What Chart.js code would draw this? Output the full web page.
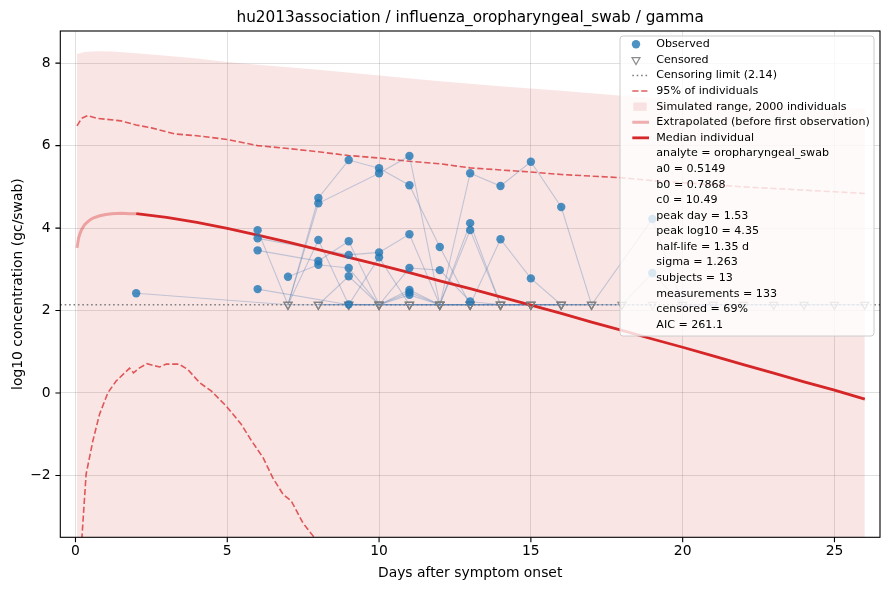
<!DOCTYPE html>
<html>
<head>
<meta charset="utf-8">
<script src="https://cdn.jsdelivr.net/npm/chart.js@4.4.0/dist/chart.umd.min.js"></script>
<style>
html,body{margin:0;padding:0;background:#ffffff;}
canvas{display:block;}
</style>
</head>
<body>
<canvas id="c" width="889" height="590"></canvas>
<script>
// ---------------- text ----------------
const titleText = "hu2013association / influenza_oropharyngeal_swab / gamma";
const xLabel = "Days after symptom onset";
const yLabel = "log10 concentration (gc/swab)";
const legendLabels = ["Observed", "Censored", "Censoring limit (2.14)", "95% of individuals",
  "Simulated range, 2000 individuals", "Extrapolated (before first observation)", "Median individual"];
const statLines = ["analyte = oropharyngeal_swab", "a0 = 0.5149", "b0 = 0.7868", "c0 = 10.49",
  "peak day = 1.53", "peak log10 = 4.35", "half-life = 1.35 d", "sigma = 1.263", "subjects = 13",
  "measurements = 133", "censored = 69%", "AIC = 261.1"];

// ---------------- axes ----------------
const xTicks = [0, 5, 10, 15, 20, 25];
const yTicks = [-2, 0, 2, 4, 6, 8];
const xRange = [-0.5, 26.5];
const yRange = [-3.5, 8.78];
const censorLimit = 2.14;

// ---------------- subjects (null = censored at limit) ----------------
const s1Days = [2, 7, 8, 9, 10, 11, 12, 13, 14, 15, 16, 17];
const s1Vals = [2.42, null, 4.73, 5.65, 5.45, 5.04, 3.54, null, null, null, null, null];
const s2Days = [6, 7, 8, 10, 11, 12, 13, 14, 15, 16, 17, 19, 20, 21, 22, 23, 24, 25, 26];
const s2Vals = [3.95, null, 4.60, 5.33, 5.75, null, 5.33, 5.02, 5.61, 4.51, null, 4.22, null, null, null, null, null, null, null];
const s3Days = [6, 9, 10, 11, 12, 13, 14, 15, 16];
const s3Vals = [3.75, 3.35, 3.41, 3.85, null, 4.12, null, null, null];
const s4Days = [6, 8, 9, 10, 11, 12, 13, 14, 15];
const s4Vals = [3.46, 3.20, 3.68, null, 3.03, 2.98, 2.22, null, null];
const s5Days = [6, 9, 10, 11, 12, 13, 14, 15, 16];
const s5Vals = [2.52, null, null, 2.50, null, 3.95, null, null, null];
const s6Days = [7, 8, 9, 10, 11, 12, 13, 14, 15, 16];
const s6Vals = [2.82, 3.11, 3.03, null, 2.44, null, null, 3.73, 2.78, null];
const s7Days = [7, 8, 9, 10, 11, 12, 13, 14];
const s7Vals = [null, 3.71, null, 3.29, null, null, null, null];
const s8Days = [8, 9, 10, 11, 12, 13, 14, 15, 16, 17, 18, 19, 20, 21, 22, 23, 24, 25, 26];
const s8Vals = [null, 2.83, null, 2.38, null, null, null, null, null, null, null, 2.91, null, null, null, null, null, null, null];
const s9Days = [8, 9, 10, 11, 12, 13, 14, 15, 16, 17, 18, 19];
const s9Vals = [null, 2.15, null, null, null, null, null, null, null, null, null, null];
const s10Days = [7, 8, 9, 10, 11, 12, 13];
const s10Vals = [null, null, null, null, null, null, null];
const s11Days = [8, 9, 10, 11, 12];
const s11Vals = [null, null, null, null, null];
const s12Days = [9, 10, 11, 12, 13, 14];
const s12Vals = [null, null, null, null, null, null];
const s13Days = [10, 11, 12, 13, 14, 15, 16, 17];
const s13Vals = [null, null, null, null, null, null, null, null];

// ---------------- model curves ----------------
const extrapDays = [0.05, 0.1, 0.15, 0.2, 0.3, 0.4, 0.5, 0.6, 0.8, 1.0, 1.2, 1.5, 1.8, 2.0];
const extrapVals = [3.52, 3.75, 3.87, 3.96, 4.08, 4.15, 4.21, 4.25, 4.30, 4.33, 4.35, 4.36, 4.35, 4.35];
const medianDays = [2, 3, 4, 5, 6, 7, 8, 9, 10, 11, 12, 13, 14, 15, 16, 17, 18, 19, 20, 21, 22, 23, 24, 25, 26];
const medianVals = [4.35, 4.26, 4.14, 3.99, 3.83, 3.66, 3.48, 3.29, 3.11, 2.92, 2.72, 2.53, 2.33, 2.13, 1.93, 1.72, 1.52, 1.31, 1.11, 0.90, 0.69, 0.48, 0.27, 0.07, -0.15];

const upperDays = [0.05, 0.2, 0.4, 0.7, 1.0, 1.5, 2.0, 2.5, 3.3, 4.0, 5.0, 6.0, 7.0, 8.0, 9.0, 10, 11, 12, 13, 14, 15, 16, 17, 18, 19, 20, 21, 22, 23, 24, 25, 26];
const upperVals = [6.48, 6.66, 6.73, 6.66, 6.64, 6.60, 6.50, 6.43, 6.28, 6.24, 6.15, 6.00, 5.93, 5.85, 5.76, 5.70, 5.62, 5.56, 5.46, 5.41, 5.36, 5.30, 5.26, 5.22, 5.15, 5.10, 5.05, 5.00, 4.96, 4.92, 4.88, 4.84];
const lowerDays = [0.15, 0.35, 0.57, 0.79, 1.07, 1.34, 1.78, 1.91, 2.11, 2.35, 2.77, 2.99, 3.41, 3.7, 4.09, 4.47, 4.97, 5.46, 5.79, 6.18, 6.5, 6.84, 7.11, 7.49, 7.83, 8.1];
const lowerVals = [-4.2, -1.97, -1.17, -0.52, 0.01, 0.29, 0.60, 0.49, 0.61, 0.71, 0.63, 0.70, 0.70, 0.57, 0.25, 0.05, -0.32, -0.76, -1.15, -1.57, -2.06, -2.46, -2.62, -3.15, -3.47, -3.9];

const simDays = [0.05, 0.3, 0.7, 1.2, 2, 3, 4, 5, 6, 7, 8, 10, 12, 14, 16, 18, 20, 22, 24, 26];
const simUpper = [8.22, 8.27, 8.29, 8.28, 8.24, 8.18, 8.11, 8.03, 7.96, 7.90, 7.84, 7.70, 7.56, 7.44, 7.33, 7.21, 7.11, 7.03, 6.96, 6.89];

// ---------------- styling ----------------
const FONT = "'DejaVu Sans', sans-serif";
const C_OBS = 'rgba(31,119,180,0.8)';
const C_CENS = 'rgba(128,128,128,0.55)';
const C_CENS_LEG = 'rgba(128,128,128,0.9)';
const C_LIMIT = 'rgba(120,120,120,0.95)';
const C_P95 = 'rgba(214,39,40,0.75)';
const C_SIM = 'rgba(214,39,40,0.12)';
const C_EXT = 'rgba(214,39,40,0.36)';
const C_MED = '#d62728';
const C_SUBJ = 'rgba(70,120,175,0.32)';

Chart.defaults.font.family = FONT;

const subjectDays = [s1Days, s2Days, s3Days, s4Days, s5Days, s6Days, s7Days, s8Days, s9Days, s10Days, s11Days, s12Days, s13Days];
const subjectVals = [s1Vals, s2Vals, s3Vals, s4Vals, s5Vals, s6Vals, s7Vals, s8Vals, s9Vals, s10Vals, s11Vals, s12Vals, s13Vals];

const zip = (xs, ys) => xs.map((x, i) => ({x: x, y: ys[i]}));

const observedPts = [];
const censoredPts = [];
const subjectSets = [];
subjectDays.forEach((days, k) => {
  const vals = subjectVals[k];
  const pts = days.map((d, i) => ({x: d, y: vals[i] === null ? censorLimit : vals[i]}));
  days.forEach((d, i) => {
    if (vals[i] === null) censoredPts.push({x: d, y: censorLimit});
    else observedPts.push({x: d, y: vals[i]});
  });
  subjectSets.push({
    type: 'line', data: pts, borderColor: C_SUBJ, borderWidth: 1.1, pointRadius: 0,
    fill: false, tension: 0, clip: 0
  });
});

const datasets = [
  {type: 'scatter', data: observedPts, pointRadius: 4.2, pointBackgroundColor: C_OBS,
   pointBorderWidth: 0, showLine: false, clip: 0},
  {type: 'scatter', data: censoredPts, pointStyle: 'triangle', rotation: 180, pointRadius: 4.6,
   pointBackgroundColor: 'rgba(0,0,0,0)', pointBorderColor: C_CENS, pointBorderWidth: 1.2,
   showLine: false, clip: 0},
  {type: 'line', data: zip(medianDays, medianVals), borderColor: C_MED, borderWidth: 2.8,
   pointRadius: 0, fill: false, tension: 0, clip: 0},
  {type: 'line', data: zip(extrapDays, extrapVals), borderColor: C_EXT, borderWidth: 3,
   pointRadius: 0, fill: false, tension: 0, clip: 0},
  ...subjectSets,
  {type: 'line', data: [{x: xRange[0], y: censorLimit}, {x: xRange[1], y: censorLimit}],
   borderColor: C_LIMIT, borderWidth: 1.6, borderDash: [1.6, 2.8], pointRadius: 0, fill: false, clip: 0},
  {type: 'line', data: zip(upperDays, upperVals), borderColor: C_P95, borderWidth: 1.6,
   borderDash: [6.2, 2.7], pointRadius: 0, fill: false, tension: 0, clip: 0},
  {type: 'line', data: zip(lowerDays, lowerVals), borderColor: C_P95, borderWidth: 1.6,
   borderDash: [6.2, 2.7], pointRadius: 0, fill: false, tension: 0, clip: 0},
  {type: 'line', data: zip(simDays, simUpper), borderWidth: 0, borderColor: 'rgba(0,0,0,0)',
   backgroundColor: C_SIM, pointRadius: 0, fill: 'start', tension: 0, clip: 0}
];

function drawLegend(ctx) {
  const bx = 620, by = 36, bw = 254, bh = 300, r = 3;
  ctx.save();
  ctx.beginPath();
  ctx.moveTo(bx + r, by);
  ctx.arcTo(bx + bw, by, bx + bw, by + bh, r);
  ctx.arcTo(bx + bw, by + bh, bx, by + bh, r);
  ctx.arcTo(bx, by + bh, bx, by, r);
  ctx.arcTo(bx, by, bx + bw, by, r);
  ctx.closePath();
  ctx.fillStyle = 'rgba(255,255,255,0.8)';
  ctx.fill();
  ctx.strokeStyle = 'rgba(204,204,204,1)';
  ctx.lineWidth = 1;
  ctx.stroke();

  const textX = 656.3, y0 = 44.3, dy = 15.59;
  const hx0 = 632.3, hx1 = 649, mx = 636;
  const all = legendLabels.concat(statLines);
  ctx.font = '11.1px ' + FONT;
  ctx.fillStyle = '#000';
  ctx.textAlign = 'left';
  ctx.textBaseline = 'middle';
  all.forEach((t, i) => ctx.fillText(t, textX, y0 + i * dy));

  // handles
  let y = y0;
  ctx.fillStyle = C_OBS;
  ctx.beginPath(); ctx.arc(mx, y, 4.2, 0, Math.PI * 2); ctx.fill();
  y = y0 + dy;
  ctx.strokeStyle = C_CENS_LEG; ctx.lineWidth = 1.2;
  ctx.beginPath();
  ctx.moveTo(mx - 4, y - 2.3); ctx.lineTo(mx + 4, y - 2.3); ctx.lineTo(mx, y + 4.6); ctx.closePath();
  ctx.stroke();
  const hline = (yy, color, w, dash) => {
    ctx.strokeStyle = color; ctx.lineWidth = w; ctx.setLineDash(dash);
    ctx.beginPath(); ctx.moveTo(hx0, yy); ctx.lineTo(hx1, yy); ctx.stroke();
    ctx.setLineDash([]);
  };
  hline(y0 + 2 * dy, C_LIMIT, 1.6, [1.6, 2.8]);
  hline(y0 + 3 * dy, C_P95, 1.6, [6.2, 2.7]);
  ctx.fillStyle = C_SIM;
  ctx.fillRect(633.3, y0 + 4 * dy - 4.2, 13.4, 8.4);
  hline(y0 + 5 * dy, C_EXT, 3, []);
  hline(y0 + 6 * dy, C_MED, 2.8, []);
  ctx.restore();
}

const decor = {
  id: 'decor',
  afterDraw(chart) {
    const ctx = chart.ctx, a = chart.chartArea, xs = chart.scales.x, ys = chart.scales.y;
    ctx.save();
    ctx.strokeStyle = '#000';
    ctx.lineWidth = 1.1;
    ctx.strokeRect(a.left, a.top, a.right - a.left, a.bottom - a.top);
    ctx.beginPath();
    xTicks.forEach(v => { const p = xs.getPixelForValue(v); ctx.moveTo(p, a.bottom); ctx.lineTo(p, a.bottom + 4.9); });
    yTicks.forEach(v => { const p = ys.getPixelForValue(v); ctx.moveTo(a.left - 4.9, p); ctx.lineTo(a.left, p); });
    ctx.stroke();

    ctx.fillStyle = '#000';
    ctx.textAlign = 'center';
    ctx.textBaseline = 'alphabetic';
    ctx.font = '15.28px ' + FONT;
    ctx.fillText(titleText, (a.left + a.right) / 2, 21.8);
    ctx.font = '13.89px ' + FONT;
    ctx.fillText(xLabel, (a.left + a.right) / 2, 576.7);
    ctx.translate(21.5, (a.top + a.bottom) / 2);
    ctx.rotate(-Math.PI / 2);
    ctx.fillText(yLabel, 0, 0);
    ctx.restore();
    drawLegend(ctx);
  }
};

const minus = v => String(v).replace('-', '\u2212');

new Chart(document.getElementById('c'), {
  type: 'scatter',
  data: {datasets: datasets},
  options: {
    responsive: false,
    animation: false,
    events: [],
    layout: {padding: {left: 0, right: 9, top: 31, bottom: 0}},
    plugins: {legend: {display: false}, tooltip: {enabled: false}, title: {display: false}},
    scales: {
      x: {
        type: 'linear', min: xRange[0], max: xRange[1],
        afterBuildTicks: s => { s.ticks = xTicks.map(v => ({value: v})); },
        afterFit: s => { s.height = 52.7; },
        grid: {color: 'rgba(0,0,0,0.12)', lineWidth: 1, drawTicks: false},
        border: {display: false},
        ticks: {font: {size: 13.89, family: FONT}, color: '#000', padding: 6, maxRotation: 0, autoSkip: false, callback: minus}
      },
      y: {
        type: 'linear', min: yRange[0], max: yRange[1],
        afterBuildTicks: s => { s.ticks = yTicks.map(v => ({value: v})); },
        afterFit: s => { s.width = 60.3; },
        grid: {color: 'rgba(0,0,0,0.12)', lineWidth: 1, drawTicks: false},
        border: {display: false},
        ticks: {font: {size: 13.89, family: FONT}, color: '#000', padding: 9.7, autoSkip: false, callback: minus}
      }
    }
  },
  plugins: [decor]
});
</script>
</body>
</html>
